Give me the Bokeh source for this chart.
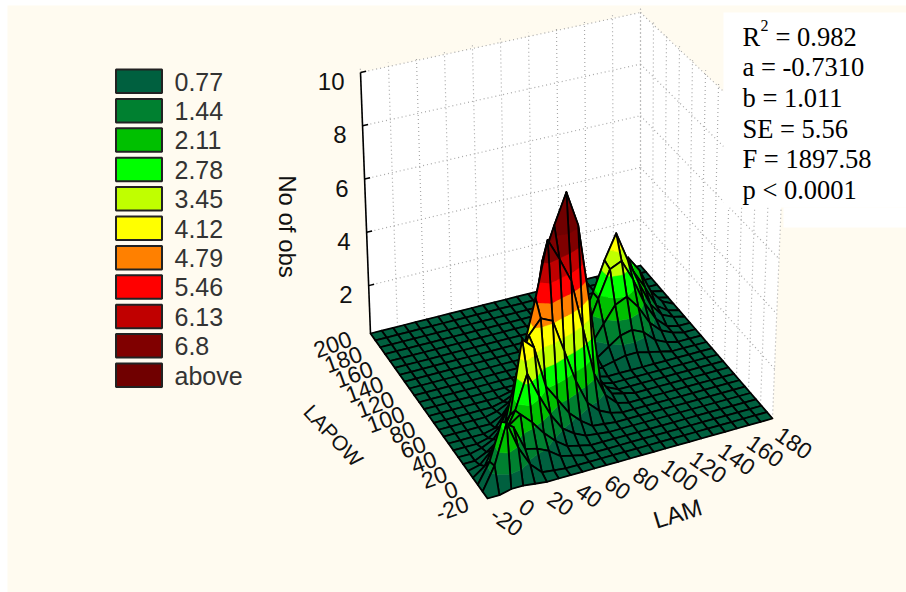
import math
from bokeh.plotting import figure
from bokeh.models import ColumnDataSource
from bokeh.core.properties import value
from bokeh.embed import file_html
from bokeh.resources import INLINE

# ---------- data ----------
legend_labels = ["0.77", "1.44", "2.11", "2.78", "3.45", "4.12", "4.79", "5.46", "6.13", "6.8", "above"]
legend_levels = [0.77, 1.44, 2.11, 2.78, 3.45, 4.12, 4.79, 5.46, 6.13, 6.8, 99.0]
legend_colors = ["#00603F", "#008030", "#00C000", "#00FF00", "#C0FF00", "#FFFF00",
                 "#FF8000", "#FF0000", "#C00000", "#800000", "#700000"]
lam_ticks = [-20, 0, 20, 40, 60, 80, 100, 120, 140, 160, 180]
lapow_ticks = [-20, 0, 20, 40, 60, 80, 100, 120, 140, 160, 180, 200]
z_ticks = [2, 4, 6, 8, 10]
stat_lines = ["a = -0.7310", "b = 1.011", "SE = 5.56", "F = 1897.58", "p < 0.0001"]

floor_value = 0.2
# surface heights on the 25 x 25 mesh: one row per LAPOW step; values start at column row_start,
# everything outside the listed run is at the floor value
row_start = [0, 0, 0, 0, 0, 0, 0, 0, 4, 4, 5, 6, 7, 9, 14, 14, 14, 15, 15, 16, 18, 20]
surface_rows = [
    [.2, .2, .3, .3, .25],
    [.2, 1.0, 2.4, 1.4, .7, .3, .25, .2],
    [.2, .9, 2.2, 1.9, 1.0, .9, .7, .4, .3],
    [.2, .5, 1.3, 1.7, 2.0, 1.6, 1.1, .7, .4, .3],
    [.2, .3, .7, 1.1, 1.9, 3.1, 2.2, 1.4, .8, .5, .3, .25],
    [.2, .2, .4, .7, 1.5, 4.1, 3.7, 2.2, 1.6, 1.0, .6, .3, .25],
    [.2, .2, .3, .5, 1.0, 2.7, 3.9, 4.4, 4.2, 3.0, 1.8, .9, .5, .3],
    [.2, .2, .2, .3, .6, 1.5, 3.2, 4.9, 6.9, 6.1, 5.2, 3.4, 1.6, .7, .3],
    [.3, .8, 1.6, 3.2, 5.9, 7.1, 8.2, 6.9, 4.0, 1.0, .4, .3],
    [.2, .4, .9, 1.9, 3.5, 5.6, 7.0, 5.4, 2.7, .8, .4],
    [.3, .5, 1.0, 1.9, 3.2, 4.1, 3.1, 1.5, .6, .3],
    [.3, .5, .9, 1.5, 1.9, 1.5, .8, .4, .3],
    [.3, .4, .6, .8, .7, .5, .3, .2, .3, .4, .5, .5, .4, .3],
    [.3, .3, .3, .2, .2, .3, .4, .7, 1.0, 1.1, .9, .5, .3],
    [.3, .7, 1.3, 1.9, 2.1, 1.6, .9, .5, .3],
    [.4, 1.0, 2.0, 3.0, 3.2, 2.4, 1.4, .7, .3],
    [.4, 1.0, 2.0, 3.1, 4.0, 2.9, 1.9, 1.0, .5, .3],
    [.6, 1.2, 1.9, 2.6, 2.4, 2.1, 1.4, .6, .3],
    [.3, .6, 1.0, 1.4, 1.7, 2.4, 1.8, .9, .4],
    [.3, .5, .7, 1.0, 1.5, 1.5, .7, .3],
    [.3, .5, .7, .6, .4, .3],
    [.3, .3],
]
N = 25

# ---------- 3D box as seen on the page ----------
CREAM = "#FFFBF0"
floor_corners = {"A": (487, 498), "B": (772, 418), "C": (370, 333), "D": (640, 265)}
top_corners = {"A": (488, 220), "B": (783, 148), "C": (360, 72), "D": (640, 12)}
Z0, Z1 = floor_value, 10.0


def bilin(c, u, v):
    x = (1-u)*(1-v)*c["A"][0] + u*(1-v)*c["B"][0] + (1-u)*v*c["C"][0] + u*v*c["D"][0]
    y = (1-u)*(1-v)*c["A"][1] + u*(1-v)*c["B"][1] + (1-u)*v*c["C"][1] + u*v*c["D"][1]
    return x, y


def project(lam, lapow, z):
    u = (lam + 20) / 200.0
    v = (lapow + 20) / 220.0
    t = (z - Z0) / (Z1 - Z0)
    fx, fy = bilin(floor_corners, u, v)
    tx, ty = bilin(top_corners, u, v)
    return fx + (tx - fx) * t, fy + (ty - fy) * t


def mesh_project(i, j, z):
    return project(-20 + 200.0 * i / (N - 1), -20 + 220.0 * j / (N - 1), z)


Z = [[floor_value] * N for _ in range(N)]
for j, (start, row) in enumerate(zip(row_start, surface_rows)):
    for k, val in enumerate(row):
        Z[j][start + k] = val


def clip(poly, level, keep_above):
    out = []
    n = len(poly)
    for k in range(n):
        a, b = poly[k], poly[(k + 1) % n]
        ina = a[2] >= level if keep_above else a[2] <= level
        inb = b[2] >= level if keep_above else b[2] <= level
        if ina:
            out.append(a)
        if ina != inb:
            s = (level - a[2]) / (b[2] - a[2])
            out.append((a[0] + s * (b[0] - a[0]), a[1] + s * (b[1] - a[1]), level))
    return out


px, py, pfill, pline, palpha, pwidth = [], [], [], [], [], []
for j in range(N - 2, -1, -1):
    for i in range(N - 2, -1, -1):
        quad = [(i, j, Z[j][i]), (i + 1, j, Z[j][i + 1]), (i + 1, j + 1, Z[j + 1][i + 1]), (i, j + 1, Z[j + 1][i])]
        low = -1.0
        for lev, col in zip(legend_levels, legend_colors):
            piece = clip(clip(quad, low, True), lev, False)
            low = lev
            if len(piece) >= 3:
                pts = [mesh_project(*q) for q in piece]
                px.append([q[0] for q in pts]); py.append([q[1] for q in pts])
                pfill.append(col); pline.append(col); palpha.append(1.0); pwidth.append(0.6)
        pts = [mesh_project(*q) for q in quad]
        px.append([q[0] for q in pts]); py.append([q[1] for q in pts])
        pfill.append("#000000"); pline.append("#000000"); palpha.append(0.0); pwidth.append(1.8)

# ---------- figure ----------
p = figure(width=906, height=592, x_range=(0, 906), y_range=(592, 0), output_backend="svg",
           toolbar_location=None, min_border=0, background_fill_color="white", border_fill_color="white",
           outline_line_color=None)
p.axis.visible = False
p.grid.visible = False

# cream panel
p.quad(left=[7], right=[906], top=[5], bottom=[592], fill_color=CREAM, line_color=None)

# walls
for wall in (("C", "D"), ("D", "B")):
    a, b = wall
    p.patch([floor_corners[a][0], top_corners[a][0], top_corners[b][0], floor_corners[b][0]],
            [floor_corners[a][1], top_corners[a][1], top_corners[b][1], floor_corners[b][1]],
            fill_color="white", line_color=None)

gx, gy = [], []
for zv in z_ticks:
    a = project(-20, 200, zv); b = project(180, 200, zv); c = project(180, -20, zv)
    gx += [[a[0], b[0]], [b[0], c[0]]]
    gy += [[a[1], b[1]], [b[1], c[1]]]
for lam in lam_ticks:
    a = project(lam, 200, Z0); b = project(lam, 200, 10.15)
    gx.append([a[0], b[0]]); gy.append([a[1], b[1]])
for lap in lapow_ticks:
    a = project(180, lap, Z0); b = project(180, lap, 10.15)
    gx.append([a[0], b[0]]); gy.append([a[1], b[1]])
p.multi_line(gx, gy, line_color="#A8A8A8", line_width=1.2, line_dash="1 3")

# z axis
ax0 = project(-20, 200, Z0); ax1 = project(-20, 200, 10)
p.line([ax0[0], ax1[0]], [ax0[1], ax1[1]], line_color="black", line_width=1.6)
tx, ty = [], []
for zv in z_ticks:
    a = project(-20, 200, zv); b = project(-16, 200, zv)
    tx.append([a[0], b[0]]); ty.append([a[1], b[1]])
p.multi_line(tx, ty, line_color="black", line_width=1.4)

# stats panel
p.quad(left=[723, 783], right=[906, 906], top=[12, 207], bottom=[207, 227], fill_color="white", line_color=None)

# surface
src = ColumnDataSource(dict(x=px, y=py, f=pfill, l=pline, a=palpha, w=pwidth))
p.patches("x", "y", source=src, fill_color="f", line_color="l", fill_alpha="a", line_width="w", line_join="round")

SANS = value("Liberation Sans")
SERIF = value("Liberation Serif")
INK = "#111111"

# z labels
zp = [project(-20, 200, zv) for zv in z_ticks]
p.text([q[0] - 16 for q in zp], [q[1] + 9 for q in zp], text=[str(v) for v in z_ticks], text_font=SANS,
       text_font_size="24px", text_align="right", text_baseline="middle", text_color=INK)
p.text([287], [226], text=["No of obs"], angle=[-math.pi / 2], text_font=SANS, text_font_size="24px",
       text_align="center", text_baseline="middle", text_color=INK)

# LAPOW ticks
lp = [project(-20, v, Z0) for v in lapow_ticks]
p.text([q[0] - 20 for q in lp], [q[1] + 4 for q in lp], text=[str(v) for v in lapow_ticks], angle=[math.radians(20)] * len(lp),
       text_font=SANS, text_font_size="23px", text_align="right", text_baseline="middle", text_color=INK)
p.text([333], [435], text=["LAPOW"], angle=[math.radians(-47)], text_font=SANS, text_font_size="21px",
       text_align="center", text_baseline="middle", text_color=INK)

# LAM ticks
mp = [project(v, -20, Z0) for v in lam_ticks]
p.text([q[0] + 6 for q in mp], [q[1] + 13 for q in mp], text=[str(v) for v in lam_ticks], angle=[math.radians(-35)] * len(mp),
       text_font=SANS, text_font_size="23px", text_align="left", text_baseline="middle", text_color=INK)
p.text([677], [513], text=["LAM"], angle=[math.radians(17)], text_font=SANS, text_font_size="24px",
       text_align="center", text_baseline="middle", text_color=INK)

# legend
ly = [69 + 29.4 * k for k in range(len(legend_labels))]
p.quad(left=[115.5] * len(ly), right=[161.5] * len(ly), top=ly, bottom=[v + 23.5 for v in ly], fill_color=legend_colors,
       line_color="#222222", line_width=2)
p.text([174] * len(ly), [v + 12 for v in ly], text=legend_labels, text_font=SANS, text_font_size="25px",
       text_align="left", text_baseline="middle", text_color="#333333")

# stats
sy = [66, 97, 128, 158, 189]
p.text([742] * 5, sy, text=stat_lines, text_font=SERIF, text_font_size="26.5px", text_baseline="alphabetic", text_color="black")
p.text([742], [36], text=["R"], text_font=SERIF, text_font_size="26.5px", text_baseline="alphabetic", text_color="black")
p.text([760], [25], text=["2"], text_font=SERIF, text_font_size="16px", text_baseline="alphabetic", text_color="black")
p.text([775], [36], text=["= 0.982"], text_font=SERIF, text_font_size="26.5px", text_baseline="alphabetic", text_color="black")

open("out.html", "w").write(file_html(p, INLINE))
